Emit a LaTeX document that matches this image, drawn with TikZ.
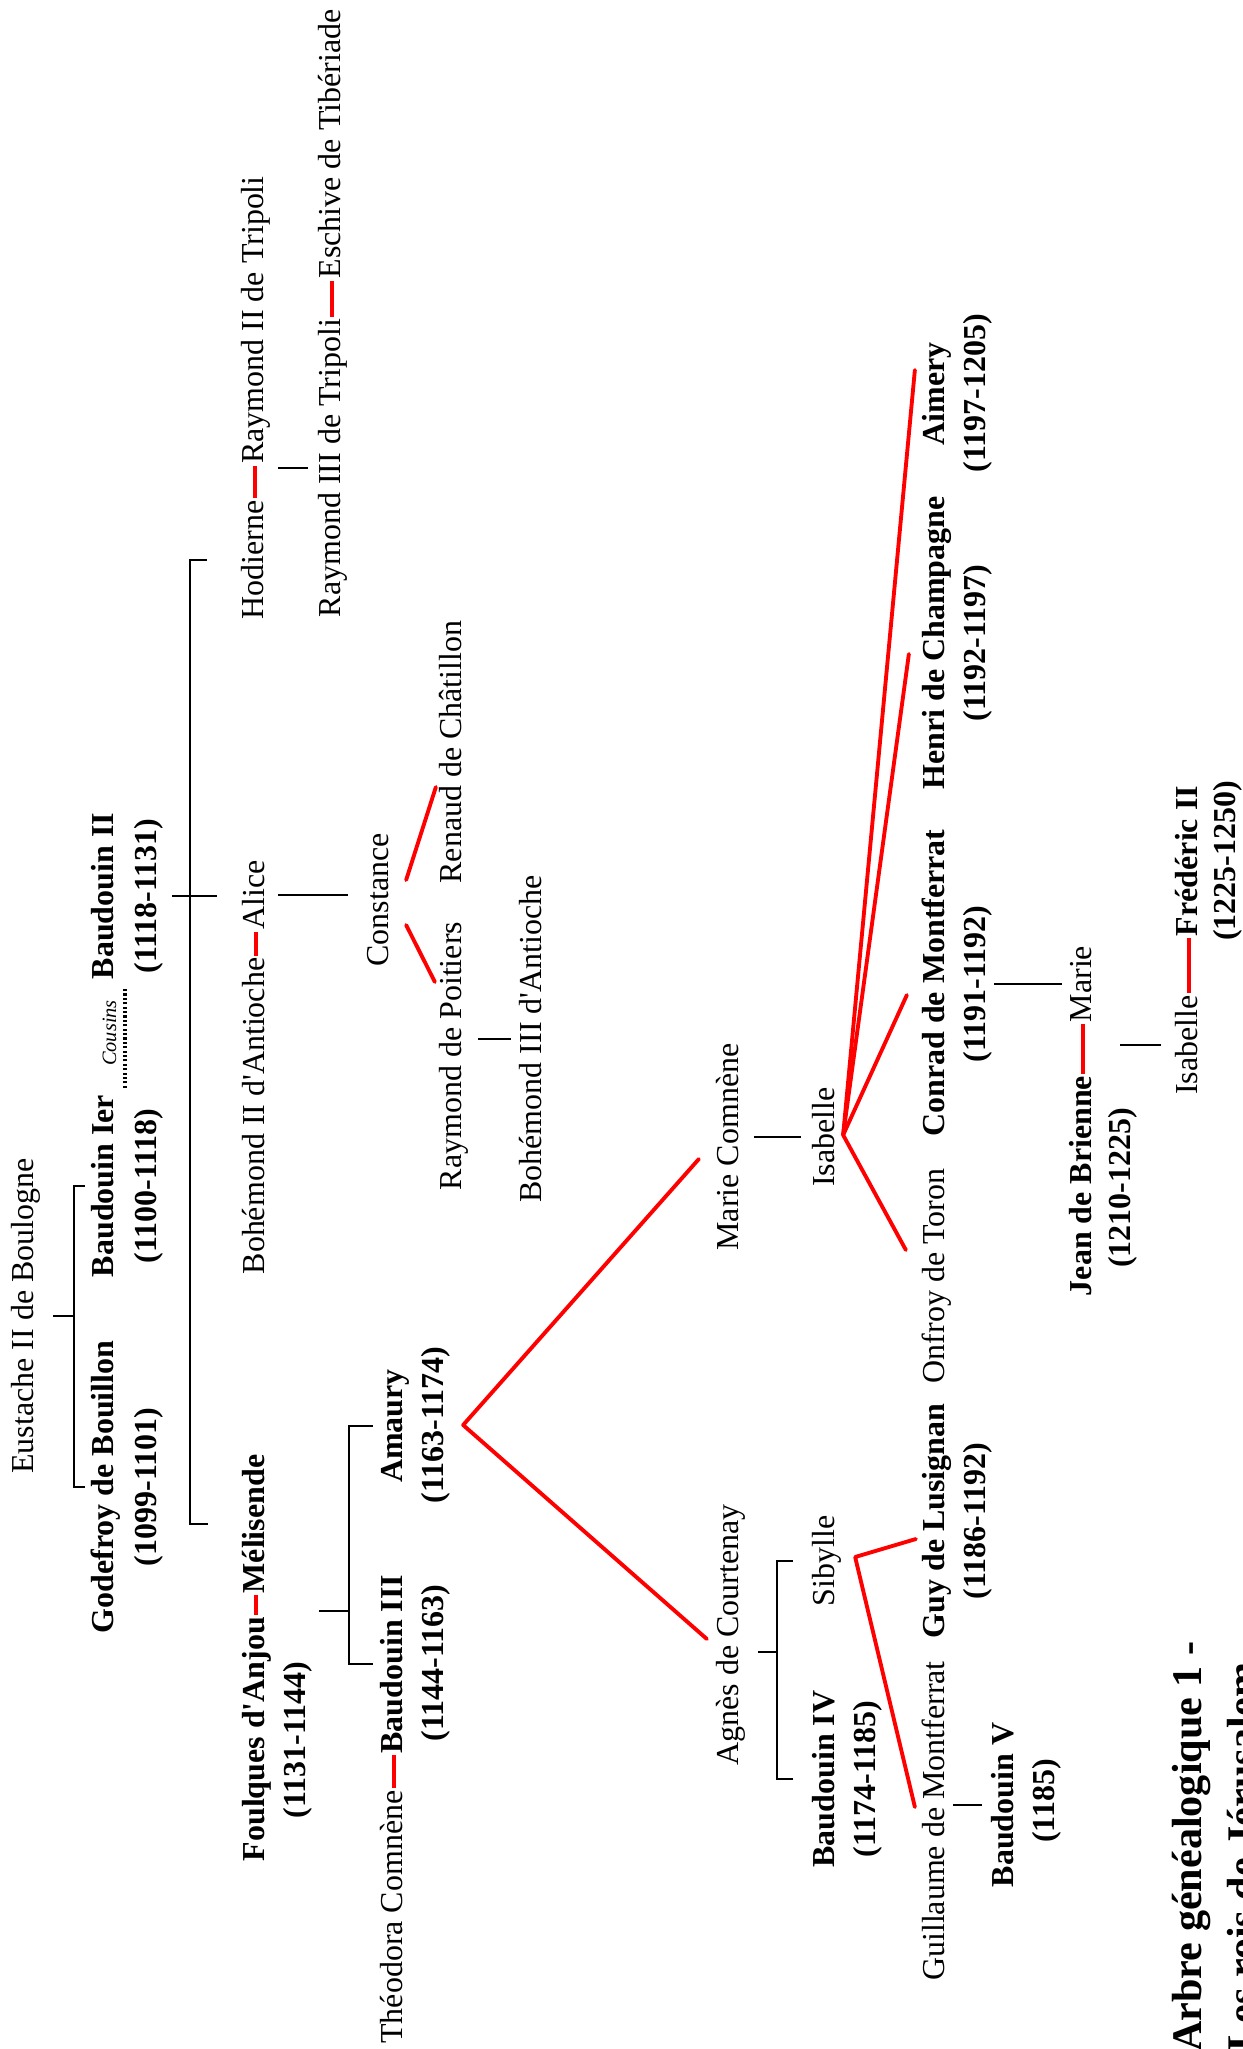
\documentclass[tikz,border=0pt]{standalone}
\usepackage{fontspec}
\setmainfont{Liberation Serif}
\usetikzlibrary{calc}

\begin{document}
\begin{tikzpicture}[
    x=0.02cm, y=0.02cm,
    person/.style={rotate=90, anchor=base, inner sep=1pt, text height=13.1pt, text depth=4pt, font=\fontsize{18.2}{22}\selectfont},
    king/.style={person, font=\fontsize{18.2}{22}\selectfont\bfseries},
    note/.style={rotate=90, anchor=base, inner sep=1pt, font=\fontsize{11.6}{14}\selectfont\itshape},
    heading/.style={rotate=90, anchor=base west, inner sep=0pt, font=\fontsize{24}{29}\selectfont\bfseries},
    kin/.style={draw=black, line width=0.9pt},
    spouse/.style={draw=red, line width=2.2pt},
    wed/.style={draw=red, line width=2.2pt, line cap=round, line join=round},
    cousin/.style={draw=black, line width=2.4pt, dash pattern=on 1.2pt off 1.3pt}
]
\useasboundingbox (0,0) rectangle (1242,-2049);
\clip (0,0) rectangle (1242,-2049);

\node[person] (eustache) at (33,-1316) {Eustache II de Boulogne};

\node[king] (godefroy) at (113,-1487) {Godefroy de Bouillon};
\node[king] (godefroy-d) at (156,-1487) {(1099-1101)};
\node[king] (baudouinI) at (113,-1186) {Baudouin Ier};
\node[king] (baudouinI-d) at (156,-1186) {(1100-1118)};
\node[king] (baudouinII) at (113,-896) {Baudouin II};
\node[king] (baudouinII-d) at (156,-896) {(1118-1131)};
\node[note] (cousins) at (116,-1033) {Cousins};

\node[king] (foulques) at (264,-1739) {Foulques d\textquotesingle Anjou};
\node[king] (foulques-d) at (305,-1740) {(1131-1144)};
\node[king] (melisende) at (264,-1524) {Mélisende};
\node[person] (bohemondII) at (264,-1116) {Bohémond II d\textquotesingle Antioche};
\node[person] (alice) at (264,-895) {Alice};
\node[person] (hodierne) at (263,-560) {Hodierne};
\node[person] (raymondII) at (263,-320) {Raymond II de Tripoli};
\node[person] (raymondIII) at (340,-468) {Raymond III de Tripoli};
\node[person] (eschive) at (340,-144) {Eschive de Tibériade};

\node[person] (theodora) at (402,-1917) {Théodora Comnène};
\node[king] (baudouinIII) at (402,-1664) {Baudouin III};
\node[king] (baudouinIII-d) at (443,-1663) {(1144-1163)};
\node[king] (amaury) at (402,-1426) {Amaury};
\node[king] (amaury-d) at (443,-1425) {(1163-1174)};
\node[person] (constance) at (388,-900) {Constance};
\node[person] (renaud) at (461,-752) {Renaud de Châtillon};
\node[person] (raypoitiers) at (461,-1056) {Raymond de Poitiers};
\node[person] (bohemondIII) at (541,-1039) {Bohémond III d\textquotesingle Antioche};

\node[person] (marie) at (738,-1147) {Marie Comnène};
\node[person] (agnes) at (738,-1635) {Agnès de Courtenay};
\node[person] (isabelle) at (834,-1137) {Isabelle};
\node[person] (sibylle) at (834,-1561) {Sibylle};
\node[king] (baudouinIV) at (834,-1779) {Baudouin IV};
\node[king] (baudouinIV-d) at (875,-1779) {(1174-1185)};

\node[person] (onfroy) at (944,-1276) {Onfroy de Toron};
\node[king] (conrad) at (944,-983) {Conrad de Montferrat};
\node[king] (conrad-d) at (985,-984) {(1191-1192)};
\node[king] (henri) at (944,-643) {Henri de Champagne};
\node[king] (henri-d) at (985,-643) {(1192-1197)};
\node[king] (aimery) at (944,-394) {Aimery};
\node[king] (aimery-d) at (985,-393) {(1197-1205)};
\node[king] (guy) at (944,-1521) {Guy de Lusignan};
\node[king] (guy-d) at (985,-1521) {(1186-1192)};
\node[person] (guillaume) at (944,-1821) {Guillaume de Montferrat};
\node[king] (baudouinV) at (1013,-1805) {Baudouin V};
\node[king] (baudouinV-d) at (1054,-1801) {(1185)};

\node[king] (jean) at (1091,-1186) {Jean de Brienne};
\node[king] (jean-d) at (1130,-1188) {(1210-1225)};
\node[person] (marie2) at (1091,-984) {Marie};
\node[person] (isabelle2) at (1197,-1045) {Isabelle};
\node[king] (frederic) at (1197,-861) {Frédéric II};
\node[king] (frederic-d) at (1235,-861) {(1225-1250)};

\node[heading] (title) at (1201,-2052) {Arbre généalogique 1 -};
\node[heading] (subtitle) at (1256,-2052) {Les rois de Jérusalem};

% marriages
\draw[spouse] (foulques.east) -- coordinate (fm) (melisende.west);
\draw[spouse] (bohemondII.east) -- (alice.west);
\draw[spouse] (hodierne.east) -- (raymondII.west);
\draw[spouse] (raymondIII.east) -- (eschive.west);
\draw[spouse] (theodora.east) -- (baudouinIII.west);
\draw[spouse] (jean.east) -- (marie2.west);
\draw[spouse] (isabelle2.east) -- (frederic.west);

% descent
\draw[kin] ($(eustache.south)+(11,0)$) -- ++(21,0) coordinate (j1);
\draw[kin] ($(godefroy.north)+(-3,0)$) -| (j1) |- ($(baudouinI.north)+(-3,0)$);
\draw[cousin] ($(baudouinI.east)+(20,5)$) -- ($(baudouinII.west)+(20,-7)$);

\draw[kin] ($(baudouinII-d.south)+(7,0)$) -- ++(45,0);
\draw[kin] ($(melisende.north)+(-31,0)$) -- ++(-18,0) |- ($(hodierne.north)+(-31,0)$);
\draw[kin] ($(alice.south)+(5,0)$) -- ($(alice.south -| constance.north)+(-15,0)$);
\draw[kin] ($(raymondIII.north)+(-7,0)$) -- ++(-30,0);
\draw[kin] ($(bohemondIII.north)+(-5,0)$) -- ++(-33,0);

\draw[kin] ($(fm)+(63,-6)$) -- ++(30,0) coordinate (j3);
\draw[kin] ($(amaury.north)+(-4,0)$) -| (j3) |- ($(baudouinIII.north)+(-4,0)$);

\draw[kin] ($(isabelle.north)+(-8,0)$) -- ++(-47,0);
\draw[kin] ($(agnes.south)+(11,-17)$) -- ++(19,0) coordinate (j5);
\draw[kin] ($(sibylle.north)+(-16,0)$) -| (j5) |- ($(baudouinIV.north)+(-16,0)$);
\draw[kin] ($(baudouinV.north)+(-6,0)$) -- ++(-29,0);
\draw[kin] (conrad-d.south) -- ($(conrad-d.south -| marie2.north)+(-4,0)$);
\draw[kin] ($(isabelle2.north)+(-11,0)$) -- ++(-41,0);

% other unions
\draw[wed] ($(constance.south)+(9,20)$) -- ($(renaud.north)+(0,-35)$);
\draw[wed] ($(constance.south)+(9,-25)$) -- ($(raypoitiers.north)+(-1,74)$);
\draw[wed] ($(marie.north)+(-14,-12)$) -- ($(amaury-d.south)+(11,0)$) -- ($(agnes.north)+(-6,-4)$);

\coordinate (ib) at ($(isabelle.south)+(0,2)$);
\draw[wed] (ib) -- ($(onfroy.north)+(-13,26)$);
\draw[wed] (ib) -- ($(conrad.north)+(-12,-12)$);
\draw[wed] (ib) -- ($(henri.north)+(-10,-11)$);
\draw[wed] (ib) -- ($(aimery.north)+(-4,24)$);
\draw[wed] ($(guillaume.north)+(-4,14)$) -- ($(sibylle.south)+(12,4)$) -- ($(guy.north)+(-3,-18)$);
\end{tikzpicture}
\end{document}
